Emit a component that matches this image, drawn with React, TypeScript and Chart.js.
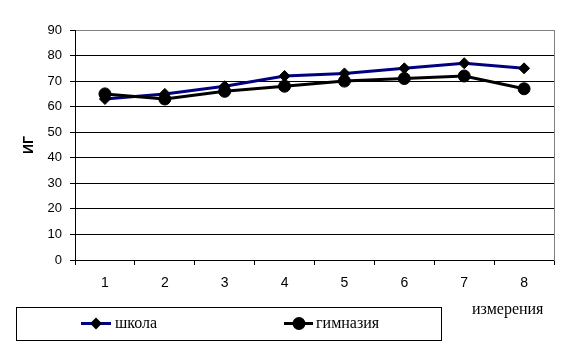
import React, { useEffect, useRef } from "react";
import { Chart, registerables } from "chart.js";

Chart.register(...registerables);

const categories = ["1", "2", "3", "4", "5", "6", "7", "8"];
const schoolValues = [63, 65, 68, 72, 73, 75, 77, 75];
const gymnasiumValues = [65, 63, 66, 68, 70, 71, 72, 67];
const seriesNames = ["школа", "гимназия"];
const yAxisTitle = "ИГ";
const xAxisTitle = "измерения";
const yMin = 0;
const yMax = 90;
const yStep = 10;

const NAVY = "#000080";
const BLACK = "#000000";
const GRAY = "#808080";

const extrasPlugin = {
  id: "extras",
  afterDatasetsDraw(chart: any) {
    const { ctx, chartArea } = chart;
    ctx.save();
    ctx.strokeStyle = GRAY;
    ctx.lineWidth = 1;
    ctx.beginPath();
    ctx.moveTo(Math.round(chartArea.right) + 0.5, Math.round(chartArea.top));
    ctx.lineTo(Math.round(chartArea.right) + 0.5, Math.round(chartArea.bottom) + 1);
    ctx.stroke();
    ctx.restore();
  },
  afterDraw(chart: any) {
    const { ctx } = chart;
    ctx.save();
    ctx.fillStyle = BLACK;
    ctx.font = "16px 'Liberation Serif', 'Times New Roman', serif";
    ctx.textBaseline = "alphabetic";
    ctx.textAlign = "left";
    ctx.fillText(xAxisTitle, 472, 314);

    ctx.strokeStyle = BLACK;
    ctx.lineWidth = 1;
    ctx.strokeRect(16.5, 307.5, 425, 33);

    const items = [
      { name: seriesNames[0], color: NAVY, style: "diamond", x0: 81, x1: 111, mx: 96, tx: 115 },
      { name: seriesNames[1], color: BLACK, style: "circle", x0: 284, x1: 313, mx: 299, tx: 316 },
    ];
    const ly = 323.5;
    for (const it of items) {
      ctx.strokeStyle = it.color;
      ctx.lineWidth = 3;
      ctx.beginPath();
      ctx.moveTo(it.x0, ly);
      ctx.lineTo(it.x1, ly);
      ctx.stroke();
      ctx.fillStyle = BLACK;
      ctx.beginPath();
      if (it.style === "diamond") {
        ctx.moveTo(it.mx, ly - 6);
        ctx.lineTo(it.mx + 6, ly);
        ctx.lineTo(it.mx, ly + 6);
        ctx.lineTo(it.mx - 6, ly);
        ctx.closePath();
      } else {
        ctx.arc(it.mx, ly, 6.5, 0, Math.PI * 2);
      }
      ctx.fill();
      ctx.fillStyle = BLACK;
      ctx.font = "16px 'Liberation Serif', 'Times New Roman', serif";
      ctx.textBaseline = "alphabetic";
      ctx.fillText(it.name, it.tx, 328);
    }
    ctx.restore();
  },
};

export default function App() {
  const canvasRef = useRef<HTMLCanvasElement | null>(null);

  useEffect(() => {
    const prevMargin = document.body.style.margin;
    document.body.style.margin = "0";
    const canvas = canvasRef.current;
    if (!canvas) return;
    const chart = new Chart(canvas, {
      type: "line",
      data: {
        labels: categories,
        datasets: [
          {
            label: seriesNames[0],
            data: schoolValues,
            borderColor: NAVY,
            borderWidth: 3,
            backgroundColor: BLACK,
            pointStyle: "rectRot",
            pointRadius: 5.5,
            pointBackgroundColor: BLACK,
            pointBorderColor: BLACK,
            pointBorderWidth: 1,
            tension: 0,
            order: 1,
          },
          {
            label: seriesNames[1],
            data: gymnasiumValues,
            borderColor: BLACK,
            borderWidth: 3,
            backgroundColor: BLACK,
            pointStyle: "circle",
            pointRadius: 6,
            pointBackgroundColor: BLACK,
            pointBorderColor: BLACK,
            pointBorderWidth: 1,
            tension: 0,
            order: 0,
          },
        ],
      },
      options: {
        responsive: false,
        animation: false,
        devicePixelRatio: 1,
        layout: { padding: { left: 0, right: 6, top: 30, bottom: 0 } },
        plugins: {
          legend: { display: false },
          tooltip: { enabled: false },
        },
        scales: {
          x: {
            type: "category",
            offset: true,
            grid: {
              offset: true,
              drawOnChartArea: false,
              drawTicks: true,
              tickLength: 5,
              color: BLACK,
              tickColor: BLACK,
            },
            border: { display: true, color: BLACK, width: 1 },
            ticks: {
              color: BLACK,
              padding: 10,
              maxRotation: 0,
              font: { family: "'Liberation Sans', Arial, sans-serif", size: 14 },
            },
            afterFit: (scale: any) => {
              scale.height = 85;
            },
          },
          y: {
            min: yMin,
            max: yMax,
            ticks: {
              stepSize: yStep,
              color: BLACK,
              padding: 8,
              font: { family: "'Liberation Sans', Arial, sans-serif", size: 13 },
            },
            grid: {
              drawTicks: true,
              tickLength: 5,
              color: (ctx: any) => (ctx.tick && ctx.tick.value === yMax ? GRAY : BLACK),
              tickColor: BLACK,
            },
            border: { display: true, color: BLACK, width: 1 },
            title: {
              display: true,
              text: yAxisTitle,
              color: BLACK,
              font: { family: "'Liberation Sans', Arial, sans-serif", size: 14, weight: "bold" },
              padding: { top: 21, bottom: 0 },
            },
            afterFit: (scale: any) => {
              scale.width = 75;
            },
          },
        },
      },
      plugins: [extrasPlugin],
    });
    return () => {
      chart.destroy();
      document.body.style.margin = prevMargin;
    };
  }, []);

  return (
    <div style={{ position: "absolute", left: 0, top: 0, width: 561, height: 345, background: "#ffffff" }}>
      <canvas ref={canvasRef} width={561} height={345} />
    </div>
  );
}
